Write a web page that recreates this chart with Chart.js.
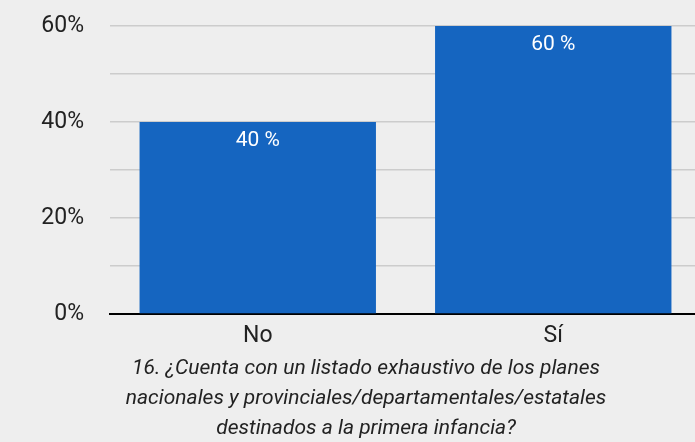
<!DOCTYPE html>
<html>
<head>
<meta charset="utf-8">
<script src="https://cdn.jsdelivr.net/npm/chart.js@4/dist/chart.umd.min.js"></script>
<style>
    html, body { margin: 0; padding: 0; background: #eeeeee; overflow: hidden; }
    #wrap { width: 701px; height: 445px; position: relative; }
</style>
</head>
<body>
<div id="wrap"><canvas id="chart"></canvas></div>
<script>
    const categories = ['No', 'Sí'];
    const values = [40, 60];
    const valueLabels = ['40 %', '60 %'];
    const labeledTicks = [0, 20, 40, 60];
    const titleLines = [
        '16. ¿Cuenta con un listado exhaustivo de los planes',
        'nacionales y provinciales/departamentales/estatales',
        'destinados a la primera infancia?'
    ];

    // white value text near the top of each bar
    const barLabels = {
        id: 'barLabels',
        afterLayout(chart) {
            // title sits a bit right of the canvas centre in the original
            if (chart.titleBlock) {
                chart.titleBlock.left = 31;
                chart.titleBlock.right = 701;
            }
        },
        afterDatasetsDraw(chart) {
            const ctx = chart.ctx;
            const meta = chart.getDatasetMeta(0);
            ctx.save();
            ctx.fillStyle = '#ffffff';
            ctx.font = '21px Roboto';
            ctx.textAlign = 'center';
            ctx.textBaseline = 'alphabetic';
            meta.data.forEach((bar, i) => {
                ctx.fillText(valueLabels[i], bar.x, bar.y + 24);
            });
            ctx.restore();
        }
    };

    new Chart(document.getElementById('chart'), {
        type: 'bar',
        data: {
            labels: categories,
            datasets: [{
                data: values,
                backgroundColor: '#1565c0',
                barPercentage: 0.8,
                categoryPercentage: 1.0
            }]
        },
        options: {
            responsive: true,
            maintainAspectRatio: false,
            animation: false,
            layout: { padding: { top: 26, right: 0, bottom: 0, left: 0 } },
            plugins: {
                legend: { display: false },
                tooltip: { enabled: false },
                title: {
                    display: true,
                    position: 'bottom',
                    text: titleLines,
                    color: '#222222',
                    font: { family: 'Roboto', size: 21, style: 'italic', weight: 'normal', lineHeight: 30 / 21 },
                    padding: { top: 4, bottom: 1 }
                }
            },
            scales: {
                x: {
                    afterFit: (scale) => {
                        scale.height = 36;
                        scale.paddingBottom = 0;
                    },
                    grid: { display: false, drawTicks: false },
                    border: { display: true, color: '#000000', width: 2 },
                    ticks: { color: '#222222', font: { family: 'Roboto', size: 23 }, padding: 8 }
                },
                y: {
                    min: 0,
                    max: 60,
                    afterFit: (scale) => {
                        scale.width = 110;
                        scale.paddingTop = 14;
                        scale.paddingBottom = 0;
                    },
                    grid: { color: '#cccccc', lineWidth: 1.5, drawTicks: false },
                    border: { display: false },
                    ticks: {
                        stepSize: 10,
                        padding: 26,
                        color: '#222222',
                        font: { family: 'Roboto', size: 23 },
                        callback: (v) => labeledTicks.includes(v) ? v + '%' : ''
                    }
                }
            }
        },
        plugins: [barLabels]
    });
</script>
</body>
</html>
